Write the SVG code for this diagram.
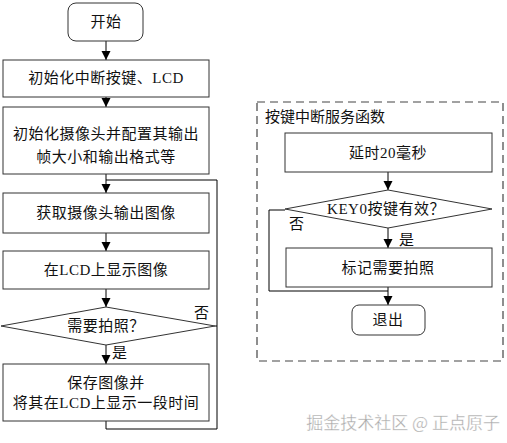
<svg xmlns="http://www.w3.org/2000/svg" width="507" height="443" viewBox="0 0 507 443">
<style>
.box{fill:#fff;stroke:#333;stroke-width:1}
.ln{fill:none;stroke:#000;stroke-width:1}
.t{font-family:"Liberation Serif","Noto Sans CJK SC",serif;font-size:15px;fill:#111;text-anchor:middle;dominant-baseline:central;letter-spacing:0.5px}
.lb{font-family:"Liberation Serif","Noto Sans CJK SC",serif;font-size:15px;fill:#111;dominant-baseline:central}
.wm{font-family:"Noto Sans CJK SC",sans-serif;font-size:17px;fill:#aaa;text-anchor:end;stroke:#fff;stroke-width:0.3}
</style>
<defs>
<marker id="arr" markerWidth="10" markerHeight="10" refX="9" refY="4.5" orient="auto" markerUnits="userSpaceOnUse">
<path d="M0,0 L9,4.5 L0,9 Z" fill="#000"/>
</marker>
</defs>
<rect x="0" y="0" width="507" height="443" fill="#fff"/>
<g id="connectors">
<line class="ln" x1="106" y1="41" x2="106" y2="60" marker-end="url(#arr)"/>
<line class="ln" x1="106" y1="97" x2="106" y2="107" marker-end="url(#arr)"/>
<line class="ln" x1="106" y1="174" x2="106" y2="193" marker-end="url(#arr)"/>
<line class="ln" x1="106" y1="233" x2="106" y2="251" marker-end="url(#arr)"/>
<line class="ln" x1="106" y1="289" x2="106" y2="307" marker-end="url(#arr)"/>
<line class="ln" x1="106" y1="345" x2="106" y2="364" marker-end="url(#arr)"/>
<polyline class="ln" points="106,421 106,429 217,429 217,180 106,180"/>
<line class="ln" x1="215" y1="326" x2="217" y2="326"/>
<text class="lb" x="194" y="313">否</text>
<text class="lb" x="112" y="353">是</text>
<line class="ln" x1="388" y1="172" x2="388" y2="190" marker-end="url(#arr)"/>
<line class="ln" x1="388" y1="228" x2="388" y2="248" marker-end="url(#arr)"/>
<line class="ln" x1="388" y1="287" x2="388" y2="305" marker-end="url(#arr)"/>
<polyline class="ln" points="285,210 269,210 269,291 388,291"/>
<text class="lb" x="289" y="224">否</text>
<text class="lb" x="399" y="240">是</text>
</g>
<g id="start"><rect class="box" x="68" y="3" width="75" height="38" rx="8"/><text class="t" x="106" y="22">开始</text></g>
<g id="init1"><rect class="box" x="3" y="60" width="206" height="37"/><text class="t" x="106" y="78">初始化中断按键、LCD</text></g>
<g id="init2"><rect class="box" x="3" y="107" width="206" height="67"/><text class="t" x="106" y="134">初始化摄像头并配置其输出</text><text class="t" x="106" y="157">帧大小和输出格式等</text></g>
<g id="get"><rect class="box" x="3" y="193" width="206" height="40"/><text class="t" x="106" y="213">获取摄像头输出图像</text></g>
<g id="show"><rect class="box" x="3" y="251" width="206" height="38"/><text class="t" x="106" y="270">在LCD上显示图像</text></g>
<g id="decide"><polygon class="box" points="106,307 215,326 106,345 1,326"/><text class="t" x="106" y="326">需要拍照？</text></g>
<g id="save"><rect class="box" x="3" y="364" width="206" height="57"/><text class="t" x="106" y="383">保存图像并</text><text class="t" x="106" y="403">将其在LCD上显示一段时间</text></g>
<g id="isr">
<rect x="257" y="102" width="246" height="259" fill="none" stroke="#444" stroke-width="1.2" stroke-dasharray="8,5"/>
<text class="lb" x="265" y="117">按键中断服务函数</text>
</g>
<g id="delay"><rect class="box" x="285" y="133" width="207" height="39"/><text class="t" x="388" y="153">延时20毫秒</text></g>
<g id="key"><polygon class="box" points="388,190 492,209 388,228 285,209"/><text class="t" x="386" y="209">KEY0按键有效？</text></g>
<g id="mark"><rect class="box" x="286" y="248" width="206" height="39"/><text class="t" x="388" y="268">标记需要拍照</text></g>
<g id="exit"><rect class="box" x="352" y="305" width="73" height="30" rx="7"/><text class="t" x="388" y="320">退出</text></g>
<text class="wm" x="500" y="421" dominant-baseline="central">掘金技术社区 @ 正点原子</text>
</svg>
